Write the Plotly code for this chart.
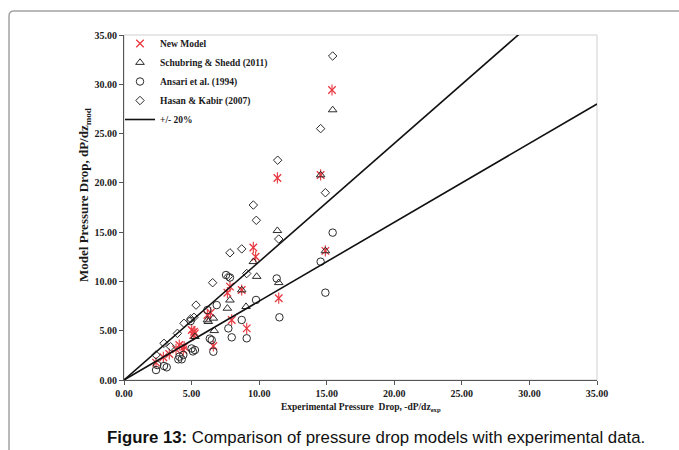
import plotly.graph_objects as go

# Experimental vs. model pressure drop, -dP/dz
new_model_x = [2.37, 2.91, 3.35, 3.85, 4.09, 4.39, 4.45, 5.01, 5.18, 5.25, 5.12, 6.17, 6.41, 6.61,
               7.65, 7.84, 7.97, 8.71, 9.08, 9.57, 9.74, 11.35, 11.45, 14.55, 14.90, 15.39]
new_model_y = [1.76, 2.30, 2.64, 3.11, 3.55, 3.04, 3.38, 5.07, 4.90, 4.73, 4.56, 6.60, 6.83, 3.45,
               8.86, 9.47, 6.09, 9.13, 5.24, 13.45, 12.50, 20.50, 8.30, 20.80, 13.10, 29.42]

schubring_x = [5.25, 6.17, 6.61, 6.24, 6.68, 7.84, 7.65, 8.71, 9.03, 9.57, 9.82, 11.35, 11.45,
               14.55, 14.90, 15.44]
schubring_y = [4.40, 6.09, 6.26, 5.92, 5.00, 8.10, 7.27, 9.13, 7.44, 12.00, 10.50, 15.15, 9.87,
               20.80, 13.10, 27.40]

ansari_x = [2.37, 2.46, 2.96, 3.16, 4.02, 4.27, 4.39, 4.10, 5.00, 5.25, 5.10, 4.93, 6.17, 6.86,
            6.49, 6.61, 6.35, 7.55, 7.84, 7.72, 7.97, 8.71, 9.08, 9.77, 11.30, 11.50, 14.55,
            14.90, 15.44]
ansari_y = [1.01, 1.52, 1.42, 1.29, 2.10, 2.10, 2.54, 2.37, 3.20, 3.04, 2.90, 5.98, 7.10, 7.60,
            4.06, 2.87, 4.20, 10.65, 10.40, 5.24, 4.33, 6.09, 4.23, 8.12, 10.30, 6.36, 12.00,
            8.86, 14.95]

hasan_x = [2.37, 2.96, 3.45, 3.95, 4.44, 5.18, 5.33, 4.93, 6.56, 7.84, 8.71, 9.08, 9.57, 9.79,
           11.37, 11.45, 14.55, 14.90, 15.44, 7.72]
hasan_y = [2.54, 3.72, 3.38, 4.73, 5.75, 6.36, 7.60, 6.20, 9.87, 12.90, 13.30, 10.80, 17.75, 16.20,
           22.30, 14.30, 25.50, 19.00, 32.87, 10.50]

band_x = [0.0, 35.0]
band_factor = [1.2, 0.8]  # +/- 20 % bounds

tick_vals = [0, 5, 10, 15, 20, 25, 30, 35]

RED = "#e8373f"
DARK = "#2b2b2b"
SERIF = "Liberation Serif"

fig = go.Figure()

# New Model: drawn as an asterisk (x + vertical bar)
fig.add_trace(go.Scatter(
    x=new_model_x, y=new_model_y, mode="markers", name="New Model",
    legendgroup="nm",
    marker=dict(symbol="x-thin-open", size=7.5, color=RED, line=dict(color=RED, width=1.3)),
))
fig.add_trace(go.Scatter(
    x=new_model_x, y=new_model_y, mode="markers", showlegend=False, legendgroup="nm",
    marker=dict(symbol="line-ns-open", size=8, color=RED, line=dict(color=RED, width=1.1)),
    hoverinfo="skip",
))
fig.add_trace(go.Scatter(
    x=schubring_x, y=schubring_y, mode="markers", name="Schubring & Shedd (2011)",
    marker=dict(symbol="triangle-up-open", size=7.5, color=DARK, line=dict(color=DARK, width=1)),
))
fig.add_trace(go.Scatter(
    x=ansari_x, y=ansari_y, mode="markers", name="Ansari et al. (1994)",
    marker=dict(symbol="circle-open", size=7.5, color=DARK, line=dict(color=DARK, width=1)),
))
fig.add_trace(go.Scatter(
    x=hasan_x, y=hasan_y, mode="markers", name="Hasan & Kabir (2007)",
    marker=dict(symbol="diamond-open", size=6.5, color=DARK, line=dict(color=DARK, width=1)),
))
for i, f in enumerate(band_factor):
    fig.add_trace(go.Scatter(
        x=band_x, y=[v * f for v in band_x], mode="lines", name="+/- 20%",
        legendgroup="band", showlegend=(i == 0),
        line=dict(color="#111111", width=1.6),
        cliponaxis=True,
    ))

# pixel -> paper helpers (plot area: x 124..597, y 35..380 in a 679x450 page)
L, R, T, B = 124, 597, 35, 380
def px(x):
    return (x - L) / (R - L)
def py(y):
    return (B - y) / (B - T)

axis_common = dict(
    range=[0, 35], tickvals=tick_vals, tickformat=".2f",
    showgrid=False, zeroline=False,
    showline=True, linecolor="#555555", linewidth=1,
    ticks="outside", ticklen=4, tickcolor="#555555", tickwidth=1,
    tickfont=dict(family=SERIF, size=10, color="#1a1a1a", weight="bold"),
    fixedrange=True,
)

fig.update_layout(
    width=679, height=450,
    margin=dict(l=L, r=679 - R, t=T, b=450 - B),
    paper_bgcolor="white", plot_bgcolor="white",
    xaxis=dict(**axis_common, ticklabelstandoff=0),
    yaxis=dict(**axis_common),
    showlegend=True,
    legend=dict(
        x=px(120), y=py(29), xanchor="left", yanchor="top",
        bgcolor="rgba(0,0,0,0)", borderwidth=0,
        font=dict(family=SERIF, size=9.5, color="#1a1a1a", weight="bold"),
        tracegroupgap=0, itemwidth=30,
    ),
    shapes=[
        # plot-area border
        dict(type="rect", xref="paper", yref="paper", x0=0, y0=0, x1=1, y1=1,
             line=dict(color="#cfcfcf", width=1), layer="below"),
        # outer figure frame with rounded top-left corner
        dict(type="path", xref="paper", yref="paper",
             path=(f"M {px(9)} {py(452)} L {px(9)} {py(16)} "
                   f"Q {px(9)} {py(11)} {px(14)} {py(11)} L {px(681)} {py(11)}"),
             line=dict(color="#a3a3a3", width=1.5)),
    ],
    annotations=[
        dict(text="<b>Experimental Pressure  Drop, -dP/dz<sub>exp</sub></b>",
             xref="paper", yref="paper", x=0.5, y=py(407), xanchor="center", yanchor="middle",
             showarrow=False, font=dict(family=SERIF, size=9.5, color="#1a1a1a")),
        dict(text="<b>Model Pressure Drop, dP/dz<sub>mod</sub></b>",
             xref="paper", yref="paper", x=px(85), y=py(195), xanchor="center", yanchor="middle",
             textangle=-90, showarrow=False, font=dict(family=SERIF, size=13, color="#1a1a1a")),
        dict(text="<b>Figure 13:</b> Comparison of pressure drop models with experimental data.",
             xref="paper", yref="paper", x=px(376), y=py(437), xanchor="center", yanchor="middle",
             showarrow=False, font=dict(family="Liberation Sans", size=16.8, color="#111111")),
    ],
)

fig.write_html("out.html")
